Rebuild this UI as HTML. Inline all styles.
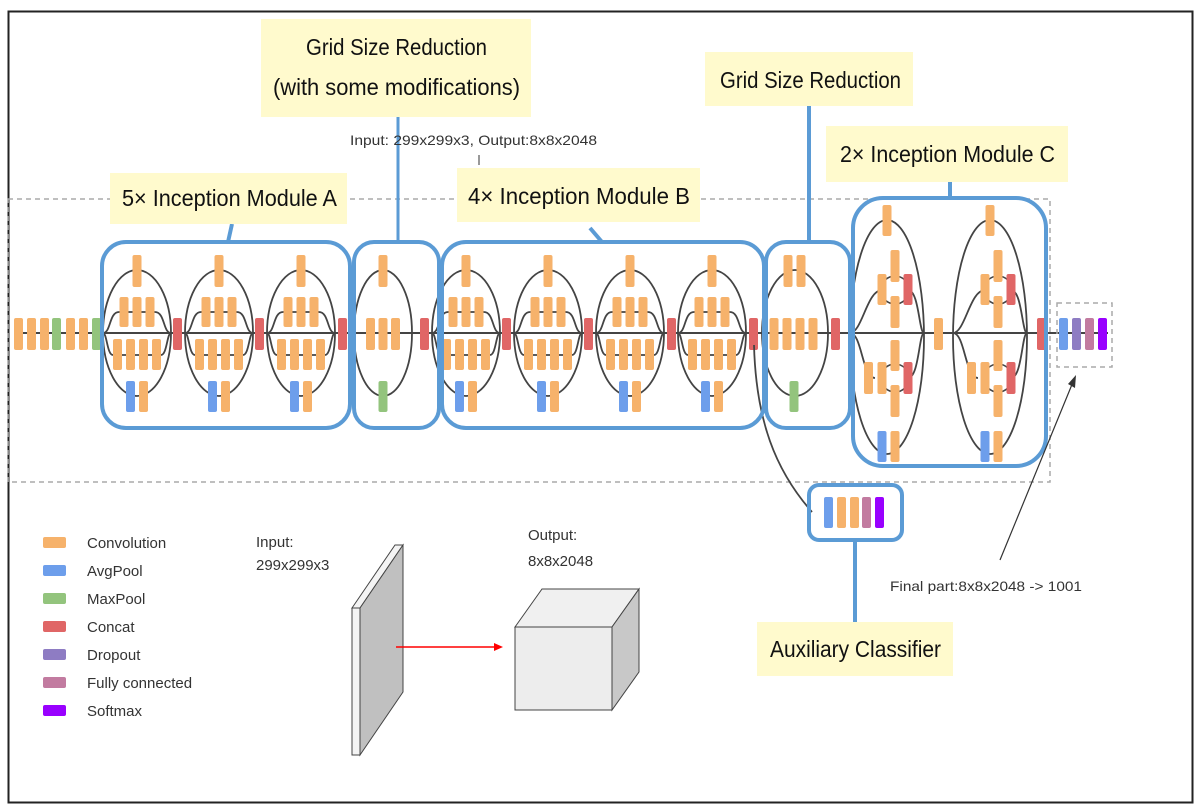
<!DOCTYPE html>
<html><head><meta charset="utf-8"><style>
html,body{margin:0;padding:0;background:#fff;}
svg{display:block;}
text{font-family:"Liberation Sans",sans-serif;}
.y{fill:#fffacd;}
.lab{font-family:"Liberation Sans",sans-serif;font-size:23px;fill:#111;}
</style></head><body>
<svg width="1202" height="812" viewBox="0 0 1202 812" xmlns="http://www.w3.org/2000/svg">
<defs>
<g id="modA">
 <ellipse cx="0" cy="333" rx="34" ry="63" fill="none" stroke="#444" stroke-width="1.8"/>
 <path d="M-34 333 C-26 333 -28 312 -18 312 L18 312 C28 312 26 333 34 333" fill="none" stroke="#444" stroke-width="1.8"/>
 <path d="M-34 333 C-30 333 -30 355 -24 355 L24 355 C30 355 30 333 34 333" fill="none" stroke="#444" stroke-width="1.8"/>
 <rect x="-4.5" y="255" width="9" height="32" rx="2" fill="#f6b26b"/>
 <rect x="-17.5" y="297" width="9" height="30" rx="2" fill="#f6b26b"/>
 <rect x="-4.5" y="297" width="9" height="30" rx="2" fill="#f6b26b"/>
 <rect x="8.5" y="297" width="9" height="30" rx="2" fill="#f6b26b"/>
 <rect x="-24" y="339" width="9" height="31" rx="2" fill="#f6b26b"/>
 <rect x="-11" y="339" width="9" height="31" rx="2" fill="#f6b26b"/>
 <rect x="2" y="339" width="9" height="31" rx="2" fill="#f6b26b"/>
 <rect x="15" y="339" width="9" height="31" rx="2" fill="#f6b26b"/>
 <rect x="-11" y="381" width="9" height="31" rx="2" fill="#6d9eeb"/>
 <rect x="2" y="381" width="9" height="31" rx="2" fill="#f6b26b"/>
</g>
<g id="modC">
 <ellipse cx="0" cy="337" rx="37" ry="117" fill="none" stroke="#444" stroke-width="1.8"/>
 <path d="M-37 333 C-25 333 -20 290 -5 290" fill="none" stroke="#444" stroke-width="1.8"/>
 <path d="M-37 333 C-25 333 -25 378 -12 378" fill="none" stroke="#444" stroke-width="1.8"/>
 <path d="M21 290 C32 290 32 333 37 333 M21 378 C32 378 32 333 37 333" fill="none" stroke="#444" stroke-width="1.8"/>
 <circle cx="8" cy="290" r="14" fill="none" stroke="#444" stroke-width="1.6"/>
 <circle cx="8" cy="378" r="14" fill="none" stroke="#444" stroke-width="1.6"/>
 <rect x="-4.5" y="205" width="9" height="31" rx="2" fill="#f6b26b"/>
 <rect x="3.5" y="250" width="9" height="32" rx="2" fill="#f6b26b"/>
 <rect x="3.5" y="296" width="9" height="32" rx="2" fill="#f6b26b"/>
 <rect x="-9.5" y="274" width="9" height="31" rx="2" fill="#f6b26b"/>
 <rect x="16.5" y="274" width="9" height="31" rx="2" fill="#e06666"/>
 <rect x="3.5" y="340" width="9" height="31" rx="2" fill="#f6b26b"/>
 <rect x="3.5" y="385" width="9" height="32" rx="2" fill="#f6b26b"/>
 <rect x="-23" y="362" width="9" height="32" rx="2" fill="#f6b26b"/>
 <rect x="-9.5" y="362" width="9" height="32" rx="2" fill="#f6b26b"/>
 <rect x="16.5" y="362" width="9" height="32" rx="2" fill="#e06666"/>
 <rect x="-9.5" y="431" width="9" height="31" rx="2" fill="#6d9eeb"/>
 <rect x="3.5" y="431" width="9" height="31" rx="2" fill="#f6b26b"/>
</g>
</defs>

<rect x="8.5" y="11.5" width="1184" height="791" fill="none" stroke="#222" stroke-width="2"/>
<rect x="8" y="199" width="1042" height="283" fill="none" stroke="#aaa" stroke-width="1.5" stroke-dasharray="5,4"/>

<line x1="14" y1="333" x2="1108" y2="333" stroke="#444" stroke-width="2"/>

<g>
<rect x="14" y="318" width="9" height="32" rx="2" fill="#f6b26b"/>
<rect x="27" y="318" width="9" height="32" rx="2" fill="#f6b26b"/>
<rect x="40" y="318" width="9" height="32" rx="2" fill="#f6b26b"/>
<rect x="52" y="318" width="9" height="32" rx="2" fill="#93c47d"/>
<rect x="66" y="318" width="9" height="32" rx="2" fill="#f6b26b"/>
<rect x="79" y="318" width="9" height="32" rx="2" fill="#f6b26b"/>
<rect x="92" y="318" width="9" height="32" rx="2" fill="#93c47d"/>
</g>

<use href="#modA" x="137"/><use href="#modA" x="219"/><use href="#modA" x="301"/>
<rect x="173" y="318" width="9" height="32" rx="2" fill="#e06666"/>
<rect x="255" y="318" width="9" height="32" rx="2" fill="#e06666"/>
<rect x="338" y="318" width="9" height="32" rx="2" fill="#e06666"/>

<ellipse cx="383" cy="333" rx="29" ry="63" fill="none" stroke="#444" stroke-width="1.8"/>
<rect x="378.5" y="255" width="9" height="32" rx="2" fill="#f6b26b"/>
<rect x="366" y="318" width="9" height="32" rx="2" fill="#f6b26b"/>
<rect x="378.5" y="318" width="9" height="32" rx="2" fill="#f6b26b"/>
<rect x="391" y="318" width="9" height="32" rx="2" fill="#f6b26b"/>
<rect x="378.5" y="381" width="9" height="31" rx="2" fill="#93c47d"/>
<rect x="420" y="318" width="9" height="32" rx="2" fill="#e06666"/>

<use href="#modA" x="466"/><use href="#modA" x="548"/><use href="#modA" x="630"/><use href="#modA" x="712"/>
<rect x="502" y="318" width="9" height="32" rx="2" fill="#e06666"/>
<rect x="584" y="318" width="9" height="32" rx="2" fill="#e06666"/>
<rect x="667" y="318" width="9" height="32" rx="2" fill="#e06666"/>
<rect x="749" y="318" width="9" height="32" rx="2" fill="#e06666"/>

<ellipse cx="795" cy="333" rx="33" ry="63" fill="none" stroke="#444" stroke-width="1.8"/>
<rect x="783.5" y="255" width="9" height="32" rx="2" fill="#f6b26b"/>
<rect x="796.5" y="255" width="9" height="32" rx="2" fill="#f6b26b"/>
<rect x="769.5" y="318" width="9" height="32" rx="2" fill="#f6b26b"/>
<rect x="782.5" y="318" width="9" height="32" rx="2" fill="#f6b26b"/>
<rect x="795.5" y="318" width="9" height="32" rx="2" fill="#f6b26b"/>
<rect x="808.5" y="318" width="9" height="32" rx="2" fill="#f6b26b"/>
<rect x="789.5" y="381" width="9" height="31" rx="2" fill="#93c47d"/>
<rect x="831" y="318" width="9" height="32" rx="2" fill="#e06666"/>

<use href="#modC" x="887"/><use href="#modC" x="990"/>
<rect x="934" y="318" width="9" height="32" rx="2" fill="#f6b26b"/>
<rect x="1037" y="318" width="9" height="32" rx="2" fill="#e06666"/>

<rect x="1057" y="303" width="55" height="64" fill="none" stroke="#aaa" stroke-width="1.5" stroke-dasharray="5,4"/>
<rect x="1059" y="318" width="9" height="32" rx="2" fill="#6d9eeb"/>
<rect x="1072" y="318" width="9" height="32" rx="2" fill="#8e7cc3"/>
<rect x="1085" y="318" width="9" height="32" rx="2" fill="#c27ba0"/>
<rect x="1098" y="318" width="9" height="32" rx="2" fill="#9900ff"/>

<path d="M754 345 C756 420 775 470 812 512" fill="none" stroke="#444" stroke-width="1.8"/>

<g fill="none" stroke="#5b9bd5" stroke-width="4">
<rect x="102" y="242" width="248" height="186" rx="24"/>
<rect x="354" y="242" width="85" height="186" rx="20"/>
<rect x="442" y="242" width="322" height="186" rx="24"/>
<rect x="766" y="242" width="84" height="186" rx="20"/>
<rect x="853" y="198" width="193" height="268" rx="30"/>
<rect x="809" y="485" width="93" height="55" rx="10"/>
<line x1="232" y1="224" x2="228" y2="242"/>
<line x1="590" y1="228" x2="602" y2="242"/>
<line x1="809" y1="106" x2="809" y2="242"/>
<line x1="950" y1="182" x2="950" y2="198"/>
<line x1="855" y1="540" x2="855" y2="622"/>
</g>
<line x1="398" y1="117" x2="398" y2="242" stroke="#5b9bd5" stroke-width="3"/>

<rect x="824" y="497" width="9" height="31" rx="2" fill="#6d9eeb"/>
<rect x="837" y="497" width="9" height="31" rx="2" fill="#f6b26b"/>
<rect x="850" y="497" width="9" height="31" rx="2" fill="#f6b26b"/>
<rect x="862" y="497" width="9" height="31" rx="2" fill="#c27ba0"/>
<rect x="875" y="497" width="9" height="31" rx="2" fill="#9900ff"/>

<rect class="y" x="110" y="173" width="237" height="51"/>
<text class="lab" x="122" y="206" textLength="215" lengthAdjust="spacingAndGlyphs">5× Inception Module A</text>
<rect class="y" x="261" y="19" width="270" height="98"/>
<text class="lab" x="306" y="55" textLength="181" lengthAdjust="spacingAndGlyphs">Grid Size Reduction</text>
<text class="lab" x="273" y="95" textLength="247" lengthAdjust="spacingAndGlyphs">(with some modifications)</text>
<rect class="y" x="457" y="168" width="243" height="54"/>
<text class="lab" x="468" y="204" textLength="222" lengthAdjust="spacingAndGlyphs">4× Inception Module B</text>
<rect class="y" x="705" y="52" width="208" height="54"/>
<text class="lab" x="720" y="88" textLength="181" lengthAdjust="spacingAndGlyphs">Grid Size Reduction</text>
<rect class="y" x="826" y="126" width="242" height="56"/>
<text class="lab" x="840" y="162" textLength="215" lengthAdjust="spacingAndGlyphs">2× Inception Module C</text>
<rect class="y" x="757" y="622" width="196" height="54"/>
<text class="lab" x="770" y="657" textLength="171" lengthAdjust="spacingAndGlyphs">Auxiliary Classifier</text>

<text x="350" y="145" font-size="14" fill="#333" textLength="247" lengthAdjust="spacingAndGlyphs">Input: 299x299x3, Output:8x8x2048</text>
<line x1="479" y1="155" x2="479" y2="165" stroke="#333" stroke-width="1"/>
<text x="890" y="591" font-size="14" fill="#333" textLength="192" lengthAdjust="spacingAndGlyphs">Final part:8x8x2048 -&gt; 1001</text>
<line x1="1000" y1="560" x2="1073" y2="382" stroke="#333" stroke-width="1.2"/>
<path d="M1076 375 L1075 388 L1068 384 Z" fill="#333"/>

<g font-size="15" fill="#333">
<rect x="43" y="537" width="23" height="11" rx="2" fill="#f6b26b"/><text x="87" y="548">Convolution</text>
<rect x="43" y="565" width="23" height="11" rx="2" fill="#6d9eeb"/><text x="87" y="576">AvgPool</text>
<rect x="43" y="593" width="23" height="11" rx="2" fill="#93c47d"/><text x="87" y="604">MaxPool</text>
<rect x="43" y="621" width="23" height="11" rx="2" fill="#e06666"/><text x="87" y="632">Concat</text>
<rect x="43" y="649" width="23" height="11" rx="2" fill="#8e7cc3"/><text x="87" y="660">Dropout</text>
<rect x="43" y="677" width="23" height="11" rx="2" fill="#c27ba0"/><text x="87" y="688">Fully connected</text>
<rect x="43" y="705" width="23" height="11" rx="2" fill="#9900ff"/><text x="87" y="716">Softmax</text>
<text x="256" y="547">Input:</text><text x="256" y="570">299x299x3</text>
<text x="528" y="540">Output:</text><text x="528" y="566">8x8x2048</text>
</g>
<!-- slab -->
<polygon points="352,608 395,545 403,545 360,608" fill="#f4f4f4" stroke="#444" stroke-width="1"/>
<rect x="352" y="608" width="8" height="147" fill="#f4f4f4" stroke="#444" stroke-width="1"/>
<polygon points="360,608 403,545 403,692 360,755" fill="#c0c0c0" stroke="#444" stroke-width="1"/>
<line x1="396" y1="647" x2="496" y2="647" stroke="#f00" stroke-width="1.5"/>
<path d="M503 647 L494 643 L494 651 Z" fill="#f00"/>
<!-- cube -->
<polygon points="515,627 542,589 639,589 612,627" fill="#f0f0f0" stroke="#444" stroke-width="1"/>
<polygon points="612,627 639,589 639,672 612,710" fill="#c8c8c8" stroke="#444" stroke-width="1"/>
<rect x="515" y="627" width="97" height="83" fill="#ededed" stroke="#444" stroke-width="1"/>
</svg>
</body></html>
